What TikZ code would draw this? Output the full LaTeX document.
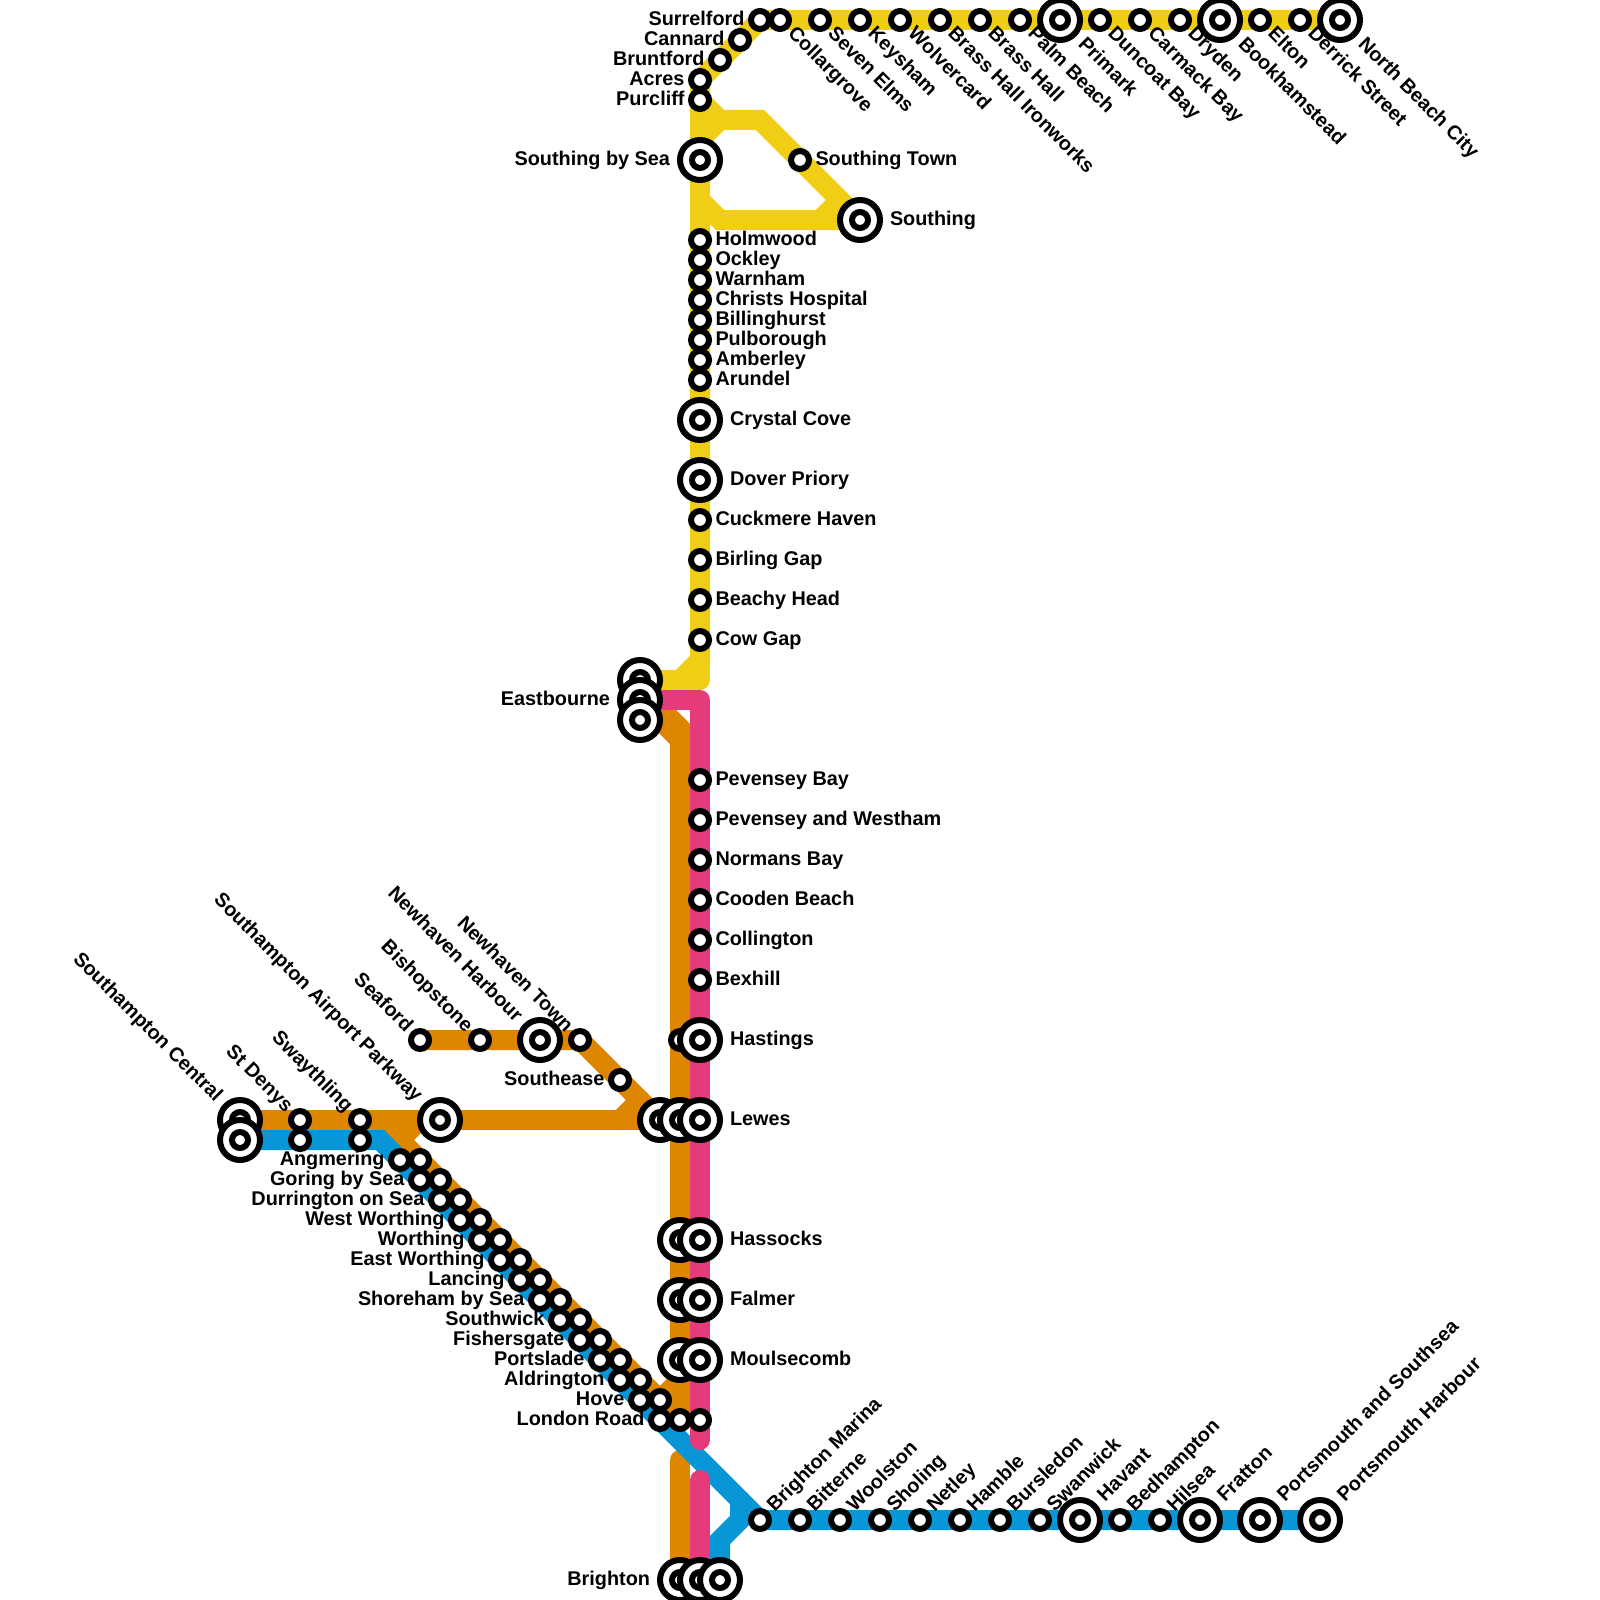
\documentclass[tikz,border=0pt]{standalone}
\usepackage{fontspec}
\setmainfont{Liberation Sans}
\pgfdeclarelayer{lines}
\pgfsetlayers{lines,main}
\definecolor{ylwline}{HTML}{F0CE15}
\definecolor{orgline}{HTML}{DF8600}
\definecolor{pnkline}{HTML}{E63B7A}
\definecolor{bluline}{HTML}{0896D7}
\tikzset{
  small/.style={circle,draw,fill=white,line width=3pt,inner sep=0pt,minimum size=9pt,outer sep=3.25pt},
  big/.style={circle,draw,fill=white,line width=3pt,inner sep=0pt,minimum size=20pt,outer sep=5pt,
    path picture={\draw[line width=3pt] (path picture bounding box.center) circle (4pt);}},
  lbl/.style={inner sep=0pt,outer sep=0pt,text height=7.5pt,text depth=2pt,font=\fontsize{9.92}{11}\selectfont\bfseries},
  lr/.style={lbl,anchor=west},
  ll/.style={lbl,anchor=east},
  ldr/.style={lbl,anchor=west,rotate=-45},
  lur/.style={lbl,anchor=west,rotate=45},
  lul/.style={lbl,anchor=east,rotate=-45},
  metro/.style={line width=10pt,line cap=round},
}
\begin{document}
\begin{tikzpicture}[x=0.5pt,y=-0.5pt]
  \useasboundingbox (0,0) rectangle (1600,1600);
  % bends
  \foreach \n/\x/\y in {ya/680/680,yb/700/660,yc/700/680,yd/720/120,ye/760/120,yf/700/140,yg/700/200,yh/720/220,yi/820/220,yj/840/200,
    oa/672/720,ob/680/728,oc/660/720,od/680/740,oe/380/1120,of/420/1120,og/400/1140,oh/620/1120,oi/640/1100,oj/680/1380,ok/660/1400,ol/680/1460,
    ba/380/1140,bb/740/1520,bc/740/1500,bd/720/1540,
    pa/700/700,pb/700/1440,pc/700/1480}
    {\coordinate (\n) at (\x,\y);}
  % eastbourne
  \node[big] (east1) at (640,680) {};
  \node[big,label={[ll,name=east-t]180:Eastbourne}] (east2) at (640,700) {};
  \node[big] (east3) at (640,720) {};
  % yellow
  \foreach \n/\s/\x/\y/\t in {acres/small/700/80/Acres,purcliff/small/700/100/Purcliff,bruntford/small/720/60/Bruntford,cannard/small/740/40/Cannard,surrelford/small/760/20/Surrelford,southsea/big/700/160/Southing by Sea}
    {\node[\s,label={[ll,name=\n-t]180:\t}] (\n) at (\x,\y) {};}
  \foreach \n/\s/\x/\t in {collargrove/small/780/Collargrove,sevenelms/small/820/Seven Elms,keysham/small/860/Keysham,wolvercard/small/900/Wolvercard,brassiron/small/940/Brass Hall Ironworks,brasshall/small/980/Brass Hall,palmbeach/small/1020/Palm Beach,primark/big/1060/Primark,duncoat/small/1100/Duncoat Bay,carmack/small/1140/Carmack Bay,dryden/small/1180/Dryden,bookham/big/1220/Bookhamstead,elton/small/1260/Elton,derrick/small/1300/Derrick Street,northbeach/big/1340/North Beach City}
    {\node[\s,label={[ldr,name=\n-t]-45:\t}] (\n) at (\x,20) {};}
  \foreach \n/\s/\x/\y/\t in {southtown/small/800/160/Southing Town,southing/big/860/220/Southing,holmwood/small/700/240/Holmwood,ockley/small/700/260/Ockley,warnham/small/700/280/Warnham,christs/small/700/300/Christs Hospital,billing/small/700/320/Billinghurst,pulborough/small/700/340/Pulborough,amberley/small/700/360/Amberley,arundel/small/700/380/Arundel,crystal/big/700/420/Crystal Cove,dover/big/700/480/Dover Priory,cuckmere/small/700/520/Cuckmere Haven,birling/small/700/560/Birling Gap,beachy/small/700/600/Beachy Head,cowgap/small/700/640/Cow Gap}
    {\node[\s,label={[lr,name=\n-t]0:\t}] (\n) at (\x,\y) {};}
  % orange
  \foreach \n/\s/\x/\y/\t in {stncent/big/240/1120/Southampton Central,stdenys/small/300/1120/St Denys,swaythling/small/360/1120/Swaythling,airport/big/440/1120/Southampton Airport Parkway,seaford/small/420/1040/Seaford,bishop/small/480/1040/Bishopstone,nhharbour/big/540/1040/Newhaven Harbour,nhtown/small/580/1040/Newhaven Town}
    {\node[\s,label={[lul,name=\n-t]135:\t}] (\n) at (\x,\y) {};}
  \node[small,label={[ll,name=southease-t]180:Southease}] (southease) at (620,1080) {};
  \foreach \x in {420,440,...,680}
    {\pgfmathtruncatemacro{\y}{\x+740}
     \node[small] (o\x) at (\x,\y) {};}
  \node[small] (ohast) at (680,1040) {};
  \foreach \n/\x/\y in {olewa/660/1120,olewb/680/1120,ohass/680/1240,ofalm/680/1300,omoul/680/1360}
    {\node[big] (\n) at (\x,\y) {};}
  \node[big,label={[ll,name=obrig-t]180:Brighton}] (obrig) at (680,1580) {};
  % pink
  \foreach \n/\s/\y/\t in {pevbay/small/780/Pevensey Bay,pevwest/small/820/Pevensey and Westham,normans/small/860/Normans Bay,cooden/small/900/Cooden Beach,collington/small/940/Collington,bexhill/small/980/Bexhill,hastings/big/1040/Hastings,lewes/big/1120/Lewes,hassocks/big/1240/Hassocks,falmer/big/1300/Falmer,moulsecomb/big/1360/Moulsecomb}
    {\node[\s,label={[lr,name=\n-t]0:\t}] (\n) at (700,\y) {};}
  \node[small] (plond) at (700,1420) {};
  \node[big] (pbrig) at (700,1580) {};
  % blue
  \node[big] (bcent) at (240,1140) {};
  \node[small] (bdenys) at (300,1140) {};
  \node[small] (bswayth) at (360,1140) {};
  \foreach \n/\x/\y/\t in {angmering/400/1160/Angmering,goring/420/1180/Goring by Sea,durrington/440/1200/Durrington on Sea,westworth/460/1220/West Worthing,worthing/480/1240/Worthing,eastworth/500/1260/East Worthing,lancing/520/1280/Lancing,shoreham/540/1300/Shoreham by Sea,southwick/560/1320/Southwick,fishers/580/1340/Fishersgate,portslade/600/1360/Portslade,aldrington/620/1380/Aldrington,hove/640/1400/Hove,london/660/1420/London Road}
    {\node[small,label={[ll,name=\n-t]180:\t}] (\n) at (\x,\y) {};}
  \node[big] (bbrig) at (720,1580) {};
  \foreach \n/\s/\x/\t in {marina/small/760/Brighton Marina,bitterne/small/800/Bitterne,woolston/small/840/Woolston,sholing/small/880/Sholing,netley/small/920/Netley,hamble/small/960/Hamble,bursledon/small/1000/Bursledon,swanwick/small/1040/Swanwick,havant/big/1080/Havant,bedhampton/small/1120/Bedhampton,hilsea/small/1160/Hilsea,fratton/big/1200/Fratton,southsea2/big/1260/Portsmouth and Southsea,harbour/big/1320/Portsmouth Harbour}
    {\node[\s,label={[lur,name=\n-t]45:\t}] (\n) at (\x,1520) {};}
  % lines go underneath
  \begin{pgfonlayer}{lines}
    \draw[metro,ylwline] (east1.center) -- (ya) -- (yb) -- (acres.center) -- (surrelford.center) -- (northbeach.center);
    \draw[metro,ylwline,line join=round] (ya) -- (yc) -- (yb);
    \draw[metro,ylwline] (purcliff.center) -- (yd) -- (ye) -- (southing.center);
    \draw[metro,ylwline] (yf) -- (yd);
    \draw[metro,ylwline] (yg) -- (yh) -- (southing.center);
    \draw[metro,ylwline] (yi) -- (yj);
    \draw[metro,orgline] (east3.center) -- (oa) -- (ob) -- (o680.center);
    \draw[metro,orgline] (oc) -- (od);
    \draw[metro,orgline] (seaford.center) -- (nhtown.center) -- (olewa.center);
    \draw[metro,orgline] (stncent.center) -- (olewb.center);
    \draw[metro,orgline] (oe) -- (o680.center);
    \draw[metro,orgline] (of) -- (og);
    \draw[metro,orgline] (oh) -- (oi);
    \draw[metro,orgline] (oj) -- (ok);
    \draw[metro,orgline] (ol) -- (obrig.center);
    \draw[metro,bluline] (bcent.center) -- (ba) -- (marina.center) -- (harbour.center);
    \draw[metro,bluline] (bc) -- (bb) -- (bd) -- (bbrig.center);
    \draw[metro,pnkline,line join=round] (east2.center) -- (pa) -- (pb);
    \draw[metro,pnkline] (pc) -- (pbrig.center);
  \end{pgfonlayer}
\end{tikzpicture}
\end{document}
